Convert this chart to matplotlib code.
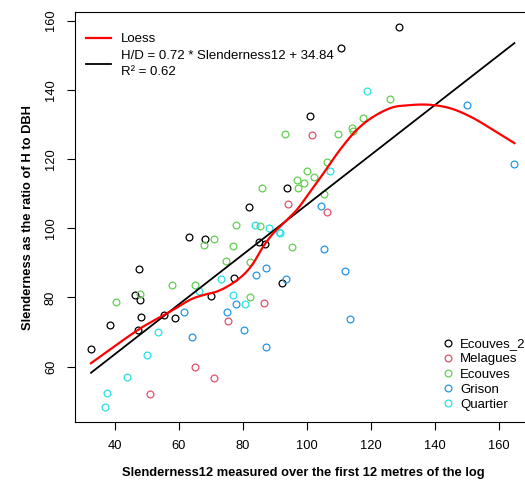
import numpy as np
import matplotlib
matplotlib.use("Agg")
import matplotlib.pyplot as plt
from matplotlib.lines import Line2D

plt.rcParams['font.family'] = ['Liberation Sans', 'DejaVu Sans']

# ---- data ----
ecouves2_x = [128.75, 110.6, 100.8, 93.9, 82.0, 63.2, 68.1, 85.1, 86.8, 47.5, 77.1, 92.3,
              46.4, 47.7, 70.0, 38.4, 48.2, 55.2, 58.85, 47.1, 32.5]
ecouves2_y = [158.1, 152.0, 132.5, 111.6, 106.1, 97.5, 96.8, 96.1, 95.5, 88.3, 85.5, 84.1,
              80.6, 79.4, 80.3, 72.1, 74.4, 75.0, 74.1, 70.6, 65.0]

melagues_x = [101.6, 94.2, 106.25, 86.6, 75.2, 65.1, 71.0, 50.8]
melagues_y = [127.0, 107.0, 104.7, 78.5, 73.2, 59.9, 56.8, 52.1]

ecouves_x = [93.2, 109.6, 114.2, 114.5, 117.4, 125.8, 106.25, 99.9, 102.3, 96.8, 99.0, 97.1,
             85.8, 105.4, 77.7, 85.3, 70.9, 67.9, 77.0, 95.3, 74.7, 82.2, 57.8, 65.0, 47.8,
             82.1, 40.4]
ecouves_y = [127.2, 127.3, 128.9, 128.1, 131.9, 137.4, 119.0, 116.6, 114.8, 113.8, 113.1, 111.6,
             111.7, 110.0, 100.9, 100.7, 96.8, 95.2, 94.8, 94.5, 90.6, 90.2, 83.7, 83.6, 81.0,
             80.1, 78.8]

grison_x = [149.9, 164.8, 104.4, 105.3, 87.2, 84.0, 93.5, 111.9, 77.7, 61.6, 74.9, 113.5,
            80.2, 64.1, 87.2]
grison_y = [135.5, 118.6, 106.4, 93.9, 88.6, 86.6, 85.3, 87.7, 78.0, 75.7, 75.7, 73.9,
            70.6, 68.7, 65.7]

quartier_x = [118.8, 107.3, 83.75, 88.2, 91.2, 91.7, 73.1, 66.3, 77.0, 80.7, 53.5, 49.9,
              43.75, 37.4, 37.0]
quartier_y = [139.7, 116.4, 100.9, 100.0, 98.8, 98.5, 85.3, 81.9, 80.7, 78.0, 70.0, 63.3,
              57.0, 52.3, 48.4]

# loess curve
loess_x = [32.5, 40, 46.8, 50.9, 57.2, 63.4, 67.6, 71.8, 75.9, 80.1, 83.2, 86.3, 89.5, 92.6,
           96.8, 100, 105, 110, 115, 120, 126, 131, 138, 145, 152, 159, 164.8]
loess_y = [61.0, 66.0, 70.4, 72.7, 75.9, 79.3, 80.7, 81.7, 83.6, 86.5, 89.9, 94.7, 98.6, 101.4,
           105.3, 109.3, 115.7, 122.3, 127.9, 131.8, 134.7, 135.5, 135.7, 134.6, 131.8, 127.9, 124.6]

slope = 0.72
intercept = 34.84
r2 = 0.62

groups = ["Ecouves_2", "Melagues", "Ecouves", "Grison", "Quartier"]
colors = ["#000000", "#DF536B", "#61D04F", "#2297E6", "#28E2E5"]
xs = [ecouves2_x, melagues_x, ecouves_x, grison_x, quartier_x]
ys = [ecouves2_y, melagues_y, ecouves_y, grison_y, quartier_y]

xticks = [40, 60, 80, 100, 120, 140, 160]
yticks = [60, 80, 100, 120, 140, 160]


def catmull_rom(x, y, n=16):
    p = np.column_stack([x, y]).astype(float)
    p = np.vstack([p[0], p, p[-1]])
    out = []
    t = np.linspace(0, 1, n, endpoint=False)[:, None]
    for i in range(1, len(p) - 2):
        p0, p1, p2, p3 = p[i - 1], p[i], p[i + 1], p[i + 2]
        seg = 0.5 * ((2 * p1) + (-p0 + p2) * t + (2 * p0 - 5 * p1 + 4 * p2 - p3) * t ** 2
                     + (-p0 + 3 * p1 - 3 * p2 + p3) * t ** 3)
        out.append(seg)
    out.append(p[-2][None, :])
    out = np.vstack(out)
    return out[:, 0], out[:, 1]


# ---- figure ----
W, H = 525, 487
fig = plt.figure(figsize=(W / 100, H / 100), dpi=100)
ax = fig.add_axes([75 / W, (H - 421.7) / H, (532 - 75) / W, (421.7 - 12.3) / H])

for gx, gy, c in zip(xs, ys, colors):
    ax.plot(gx, gy, linestyle='none', marker='o', markersize=4.9, markerfacecolor='none',
            markeredgecolor=c, markeredgewidth=0.9)

all_x = np.concatenate([np.asarray(v, float) for v in xs])
xr = np.array([all_x.min(), all_x.max()])
ax.plot(xr, slope * xr + intercept, color='black', lw=1.3)
sx, sy = catmull_rom(loess_x, loess_y)
ax.plot(sx, sy, color='#FF0000', lw=1.6)

ax.set_xlim(27.5, 170.3)
ax.set_ylim(44.1, 162.4)
ax.set_xticks(xticks)
ax.set_yticks(yticks)
ax.tick_params(axis='both', direction='out', length=6, width=0.8, labelsize=9.3, pad=7)
for lab in ax.get_yticklabels():
    lab.set_rotation(90)
    lab.set_va('center')
for s in ax.spines.values():
    s.set_linewidth(0.8)

ax.set_xlabel("Slenderness12 measured over the first 12 metres of the log",
              fontsize=9.3, fontweight='bold', labelpad=11)
ax.set_ylabel("Slenderness as the ratio of H to DBH",
              fontsize=9.3, fontweight='bold', labelpad=8)

# top-left legend
h1 = [Line2D([], [], color='#FF0000', lw=1.6), Line2D([], [], color='black', lw=1.3)]
l1 = ["Loess", f"H/D = {slope} * Slenderness12 + {intercept}\nR\u00b2 = {r2}"]
leg1 = fig.legend(h1, l1, loc='upper left', bbox_to_anchor=(85.5 / W, 1 - 33 / H),
                  bbox_transform=fig.transFigure, frameon=False, fontsize=9.5,
                  handlelength=1.9, handletextpad=0.8, borderpad=0, borderaxespad=0,
                  labelspacing=0.38)
leg1.get_texts()[1].set_linespacing(1.45)

# bottom-right legend
h2 = [Line2D([], [], linestyle='none', marker='o', markersize=4.9, markerfacecolor='none',
             markeredgecolor=c, markeredgewidth=0.9) for c in colors]
leg2 = fig.legend(h2, groups, loc='upper left', bbox_to_anchor=(443 / W, 1 - 338 / H),
                  bbox_transform=fig.transFigure, frameon=False, fontsize=9.5,
                  handlelength=0.8, handletextpad=0.5, borderpad=0, borderaxespad=0,
                  labelspacing=0.22)

fig.savefig("out.png", dpi=100)
